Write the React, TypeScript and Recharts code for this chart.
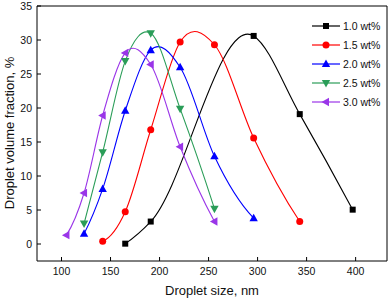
import { LineChart, Line, XAxis, YAxis, Label, ReferenceLine } from "recharts";

const FONT = "Liberation Sans, Arial, sans-serif";

// droplet sizes (nm) and volume fractions (%) per surfactant loading
const size10 = [165, 191, 296, 343, 397];
const frac10 = [0.05, 3.3, 30.6, 19.1, 5.05];

const size15 = [142, 165, 191, 221, 256, 296, 343];
const frac15 = [0.4, 4.75, 16.8, 29.7, 29.3, 15.6, 3.3];

const size20 = [123, 142, 165, 191, 221, 256, 296];
const frac20 = [1.5, 8.1, 19.6, 28.5, 26.0, 12.9, 3.8];

const size25 = [123, 142, 165, 191, 221, 256];
const frac25 = [3.0, 13.5, 26.9, 31.0, 19.9, 5.2];

const size30 = [105, 123, 142, 165, 191, 221, 256];
const frac30 = [1.3, 7.5, 18.9, 28.1, 26.4, 14.3, 3.3];

const xTicks = [100, 150, 200, 250, 300, 350, 400];
const yTicks = [0, 5, 10, 15, 20, 25, 30, 35];

const toRows = (xs: number[], ys: number[]) => xs.map((x, i) => ({ x, y: ys[i] }));

const series = [
  { name: "1.0 wt%", color: "#000000", marker: "square", data: toRows(size10, frac10) },
  { name: "1.5 wt%", color: "#ff0000", marker: "circle", data: toRows(size15, frac15) },
  { name: "2.0 wt%", color: "#0000ff", marker: "up", data: toRows(size20, frac20) },
  { name: "2.5 wt%", color: "#2a9d58", marker: "down", data: toRows(size25, frac25) },
  { name: "3.0 wt%", color: "#9a35e8", marker: "left", data: toRows(size30, frac30) },
];

// spline like Origin's: hermite segments, slope from the parabola through 3 neighbours
function originSpline(context: any) {
  let xs: number[] = [];
  let ys: number[] = [];
  return {
    areaStart() {},
    areaEnd() {},
    lineStart() {
      xs = [];
      ys = [];
    },
    point(x: number, y: number) {
      xs.push(+x);
      ys.push(+y);
    },
    lineEnd() {
      const n = xs.length;
      if (!n) return;
      context.moveTo(xs[0], ys[0]);
      if (n < 3) {
        if (n === 2) context.lineTo(xs[1], ys[1]);
        return;
      }
      const h: number[] = [];
      const s: number[] = [];
      for (let i = 0; i < n - 1; i++) {
        h.push(xs[i + 1] - xs[i]);
        s.push((ys[i + 1] - ys[i]) / (xs[i + 1] - xs[i]));
      }
      const d: number[] = new Array(n);
      for (let i = 1; i < n - 1; i++) {
        d[i] = (h[i] * s[i - 1] + h[i - 1] * s[i]) / (h[i - 1] + h[i]);
      }
      d[0] = ((2 * h[0] + h[1]) * s[0] - h[0] * s[1]) / (h[0] + h[1]);
      d[n - 1] = ((2 * h[n - 2] + h[n - 3]) * s[n - 2] - h[n - 2] * s[n - 3]) / (h[n - 2] + h[n - 3]);
      for (let i = 0; i < n - 1; i++) {
        const k = h[i] / 3;
        context.bezierCurveTo(xs[i] + k, ys[i] + d[i] * k, xs[i + 1] - k, ys[i + 1] - d[i + 1] * k, xs[i + 1], ys[i + 1]);
      }
    },
  };
}

const Marker = ({ kind, x, y, color }: { kind: string; x: number; y: number; color: string }) => {
  if (kind === "square") return <rect x={x - 3} y={y - 3} width={6} height={6} fill={color} />;
  if (kind === "circle") return <circle cx={x} cy={y} r={3.5} fill={color} />;
  let pts = "";
  if (kind === "up") pts = `${x},${y - 4.5} ${x - 4.2},${y + 3} ${x + 4.2},${y + 3}`;
  if (kind === "down") pts = `${x - 4.2},${y - 3} ${x + 4.2},${y - 3} ${x},${y + 4.5}`;
  if (kind === "left") pts = `${x - 4.5},${y} ${x + 3},${y - 4.2} ${x + 3},${y + 4.2}`;
  return <polygon points={pts} fill={color} />;
};

const LegendBox = () => (
  <svg width={80} height={110} style={{ position: "absolute", left: 308, top: 16 }}>
    {series.map((s, i) => {
      const cy = 10 + i * 19;
      return (
        <g key={s.name}>
          <line x1={4} x2={32} y1={cy} y2={cy} stroke={s.color} strokeWidth={1.2} />
          <Marker kind={s.marker} x={18} y={cy} color={s.color} />
          <text x={35} y={cy} dominantBaseline="central" fontSize={10.5} fontFamily={FONT} fill="#111">
            {s.name}
          </text>
        </g>
      );
    })}
  </svg>
);

export default function App() {
  return (
    <div style={{ position: "absolute", left: 0, top: 0, width: 388, height: 300, background: "#fff" }}>
      <LineChart width={388} height={300} margin={{ top: 6, right: 1, left: 0, bottom: 0 }}>
        <XAxis
          dataKey="x"
          type="number"
          domain={[75, 432]}
          ticks={xTicks}
          allowDataOverflow
          height={39}
          stroke="#000"
          tickSize={-4}
          tickMargin={11}
          tick={{ fontSize: 10.5, fontFamily: FONT, fill: "#111" }}
        >
          <Label
            content={() => (
              <text x={212} y={290} textAnchor="middle" dominantBaseline="central" fontSize={13} fontFamily={FONT} fill="#111">
                Droplet size, nm
              </text>
            )}
          />
        </XAxis>
        <YAxis
          dataKey="y"
          type="number"
          domain={[-2.5, 35]}
          ticks={yTicks}
          allowDataOverflow
          width={37}
          stroke="#000"
          tickSize={-4}
          tickMargin={9}
          tick={{ fontSize: 10.5, fontFamily: FONT, fill: "#111" }}
        >
          <Label
            content={() => (
              <text
                x={9}
                y={133}
                transform="rotate(-90 9 133)"
                textAnchor="middle"
                dominantBaseline="central"
                fontSize={13}
                fontFamily={FONT}
                fill="#111"
              >
                Droplet volume fraction, %
              </text>
            )}
          />
        </YAxis>
        <ReferenceLine y={35} stroke="#000" ifOverflow="visible" />
        <ReferenceLine x={432} stroke="#000" ifOverflow="visible" />
        {series.map((s) => (
          <Line
            key={s.name}
            data={s.data}
            dataKey="y"
            name={s.name}
            type={originSpline as any}
            stroke={s.color}
            strokeWidth={1.1}
            isAnimationActive={false}
            dot={(p: any) => <Marker key={`${s.name}-${p.index}`} kind={s.marker} x={p.cx} y={p.cy} color={s.color} />}
            activeDot={false}
          />
        ))}
      </LineChart>
      <LegendBox />
    </div>
  );
}
